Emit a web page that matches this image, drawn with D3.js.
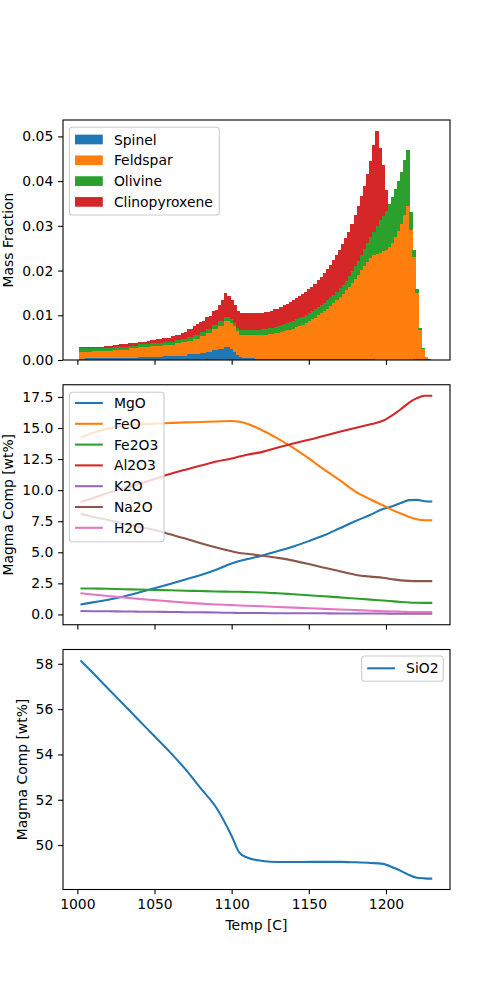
<!DOCTYPE html>
<html lang="en">
<head>
<meta charset="UTF-8">
<script src="https://d3js.org/d3.v7.min.js"></script>
<title>Crystallisation</title>
<style>
  body { margin: 0; background: #fff; }
  svg text { font-family: "DejaVu Sans", sans-serif; fill: #000; }
</style>
</head>
<body>
<svg id="mainsvg" width="500" height="1000"></svg>
<script>
// ---- data ----
// bar temperatures (C), 2 degree steps
const barTemps = [1002,1004,1006,1008,1010,1012,1014,1016,1018,1020,1022,1024,1026,1028,1030,1032,1034,1036,1038,1040,
  1042,1044,1046,1048,1050,1052,1054,1056,1058,1060,1062,1064,1066,1068,1070,1072,1074,1076,1078,1080,
  1082,1084,1086,1088,1090,1092,1094,1096,1098,1100,1102,1104,1106,1108,1110,1112,1114,1116,1118,1120,
  1122,1124,1126,1128,1130,1132,1134,1136,1138,1140,1142,1144,1146,1148,1150,1152,1154,1156,1158,1160,
  1162,1164,1166,1168,1170,1172,1174,1176,1178,1180,1182,1184,1186,1188,1190,1192,1194,1196,1198,1200,
  1202,1204,1206,1208,1210,1212,1214,1216,1218,1220,1222,1224,1226,1228]

const spinel = [.00025,.00025,.00045,.00045,.00045,.00045,.00045,.00045,.00045,.00045,.00045,.00045,.00045,.00045,.00045,.00045,.00045,.00045,.00045,.0007,
  .0007,.0007,.0007,.0007,.0007,.0007,.0007,.0009,.0009,.0009,.0009,.0009,.001,.001,.001,.0013,.0013,.0013,.0013,.0016,
  .0016,.0019,.0019,.0022,.0022,.0025,.0025,.0028,.0028,.0025,.0018,.0012,.0007,.0005,.0005,.0004,.0004,.0003,.0003,.0003,
  .0002,.0002,.0002,.0002,.0002,.0002,.0002,.0002,.0002,.0002,.0002,.0002,.0002,.0002,.0002,.0002,.0002,.0002,.0002,.0002,
  .0002,.0002,.0002,.0002,.0002,.0002,.0002,.0002,.0002,.0002,.0002,.0002,.0002,.0002,.0002,.0002,0,0,0,0,
  0,0,0,0,0,0,0,0,.0002,.0002,.0002,.0002,.0002,.0002]

const feldspar = [.00165,.00165,.00145,.00145,.00165,.00165,.00165,.00165,.00165,.00165,.00165,.00185,.00185,.00185,.00185,.00185,.00215,.00215,.00215,.0021,
  .0021,.0021,.0021,.0024,.0024,.0024,.0024,.0025,.0025,.0025,.0025,.0028,.0027,.003,.003,.003,.003,.0034,.0034,.0037,
  .0037,.0042,.0042,.0048,.0048,.0052,.0052,.0059,.0059,.0057,.0057,.0052,.005,.0051,.0051,.0051,.0051,.0052,.0053,.0053,
  .0055,.0056,.0057,.0058,.0059,.0061,.0062,.0064,.0066,.0068,.0071,.0074,.0077,.0081,.0085,.0089,.0093,.0098,.0103,.0108,
  .0113,.0119,.0125,.0132,.0139,.0146,.0154,.0162,.0171,.018,.0189,.0199,.0209,.0218,.0227,.0232,.0238,.024,.0243,.0247,
  .0253,.0262,.0274,.0288,.0305,.0325,.0344,.029,.0229,.0147,.0065,.0023,.0004,0]

const olivine = [.0007,.0007,.0007,.0007,.0006,.0006,.0006,.0006,.0006,.0006,.0006,.0006,.0006,.0006,.0006,.0006,.0006,.0006,.0006,.0007,
  .0007,.0007,.0007,.0007,.0007,.0007,.0007,.0007,.0007,.0007,.0007,.0007,.0007,.0007,.0007,.0008,.0008,.0009,.0009,.0009,
  .0009,.0009,.0009,.0009,.0009,.001,.001,.0009,.0009,.001,.0008,.0008,.0011,.0012,.0011,.0012,.0012,.0012,.0012,.0013,
  .0013,.0013,.0013,.0014,.0015,.0015,.0016,.0017,.0017,.0018,.0018,.0018,.0018,.0018,.0018,.0018,.0018,.0018,.0018,.0018,
  .0019,.0019,.0019,.0019,.0019,.002,.0021,.0023,.0025,.0028,.0031,.0034,.0037,.0041,.0045,.0053,.0062,.0072,.008,.0086,
  .0095,.0103,.0109,.0112,.0115,.0123,.0125,.004,.0014,.0009,.0005,.0001,0,0]

const clinopyroxene = [.0003,.0003,.0003,.0003,.0003,.0003,.0003,.0003,.0005,.0005,.0005,.0005,.0005,.0007,.0007,.0007,.0006,.0006,.0006,.0006,
  .0006,.0006,.0007,.0007,.0007,.0008,.0008,.0009,.0009,.0009,.0012,.0012,.0013,.0013,.0016,.0018,.0019,.002,.0024,.0024,
  .0026,.0026,.0028,.003,.0032,.0035,.0048,.0053,.0048,.0043,.0039,.0037,.0037,.0036,.0037,.0037,.0037,.0037,.0036,.0035,
  .0037,.0037,.0038,.0039,.0039,.004,.0042,.0043,.0045,.0047,.0048,.0049,.0051,.0052,.0053,.0055,.0058,.006,.0063,.0067,
  .007,.0073,.0077,.0082,.0086,.0091,.0095,.01,.0107,.0115,.0123,.0132,.0142,.0154,.0171,.0193,.0211,.0163,.0112,.0047,
  0,0,0,0,0,0,0,0,0,0,0,0,0,0]

// magma composition (wt%) against temperature
const lineTemps = [1002,1010,1020,1030,1040,1050,1060,1070,1080,1090,1100,1105,1110,1120,1130,1140,1150,1160,1170,1180,1190,1198,1205,1210,1215,1220,1225,1230]
const MgO   = [0.80,0.97,1.18,1.45,1.77,2.10,2.45,2.82,3.18,3.60,4.10,4.30,4.45,4.75,5.10,5.47,5.90,6.37,6.93,7.50,8.02,8.48,8.75,8.98,9.20,9.22,9.10,9.08]
const FeO   = [14.25,14.60,14.95,15.15,15.27,15.35,15.40,15.45,15.48,15.52,15.56,15.50,15.35,14.80,14.15,13.40,12.55,11.65,10.80,9.90,9.25,8.78,8.35,8.10,7.85,7.65,7.58,7.58]
const Fe2O3 = [2.09,2.08,2.06,2.03,2.00,1.97,1.94,1.91,1.88,1.85,1.83,1.82,1.80,1.77,1.70,1.62,1.54,1.46,1.37,1.28,1.19,1.12,1.05,1.00,0.96,0.94,0.93,0.93]
const Al2O3 = [9.05,9.35,9.78,10.15,10.50,10.90,11.30,11.65,11.98,12.30,12.55,12.70,12.85,13.08,13.43,13.75,14.05,14.38,14.70,15.00,15.30,15.58,16.10,16.55,17.05,17.40,17.60,17.60]
const K2O   = [0.27,0.26,0.25,0.24,0.22,0.21,0.20,0.18,0.17,0.15,0.13,0.12,0.12,0.11,0.10,0.10,0.09,0.09,0.08,0.08,0.07,0.07,0.06,0.06,0.05,0.05,0.05,0.05]
const Na2O  = [8.10,7.85,7.60,7.30,7.05,6.80,6.45,6.10,5.72,5.38,5.08,4.95,4.88,4.72,4.55,4.33,4.05,3.75,3.48,3.20,3.04,2.95,2.82,2.74,2.70,2.68,2.68,2.68]
const H2O   = [1.71,1.60,1.48,1.36,1.25,1.15,1.05,0.95,0.87,0.80,0.75,0.72,0.70,0.66,0.60,0.55,0.50,0.45,0.40,0.35,0.30,0.26,0.24,0.22,0.20,0.19,0.19,0.19]
const SiO2  = [58.15,57.60,56.90,56.20,55.50,54.80,54.10,53.35,52.50,51.66,50.40,49.67,49.45,49.30,49.25,49.25,49.26,49.26,49.26,49.24,49.21,49.17,49.00,48.85,48.68,48.56,48.53,48.52]

// tick labels
const tempTicks = [1000, 1050, 1100, 1150, 1200]
const massTicks = [0, 0.01, 0.02, 0.03, 0.04, 0.05]
const compTicks = [0, 2.5, 5, 7.5, 10, 12.5, 15, 17.5]
const silicaTicks = [50, 52, 54, 56, 58]

const minerals = ['Spinel', 'Feldspar', 'Olivine', 'Clinopyroxene']
const oxides = ['MgO', 'FeO', 'Fe2O3', 'Al2O3', 'K2O', 'Na2O', 'H2O']
const colors = ['#1f77b4', '#ff7f0e', '#2ca02c', '#d62728', '#9467bd', '#8c564b', '#e377c2']

// ---- layout ----
const svg = d3.select('#mainsvg')
const left = 63, right = 450, panelH = 240
const tops = [120, 384.75, 649.5]
const fs = 13.9, tick = 4.86

const x = d3.scaleLinear().domain([990.7, 1241.5]).range([left, right])

function panel(i, yScale, ticks, fmt, label, labelX, showX) {
  const g = svg.append('g')
  g.append('clipPath').attr('id', 'clip' + i)
    .append('rect').attr('x', left).attr('y', tops[i]).attr('width', right - left).attr('height', panelH)
  const yAx = g.append('g').attr('transform', `translate(${left},0)`)
    .call(d3.axisLeft(yScale).tickValues(ticks).tickFormat(d3.format(fmt)).tickSize(tick).tickPadding(tick))
  const xAx = g.append('g').attr('transform', `translate(0,${tops[i] + panelH})`)
    .call(d3.axisBottom(x).tickValues(tempTicks).tickSize(tick).tickPadding(tick)
      .tickFormat(showX ? d3.format('d') : () => ''))
  for (const a of [xAx, yAx]) {
    a.select('.domain').remove()
    a.selectAll('line').attr('stroke', '#000').attr('stroke-width', 1.1)
    a.selectAll('text').style('font-size', fs + 'px').attr('fill', '#000')
  }
  g.append('text').attr('transform', `translate(${labelX},${tops[i] + panelH / 2}) rotate(-90)`)
    .attr('text-anchor', 'middle').style('font-size', fs + 'px').text(label)
  return g
}

// top: stacked bars
const yMass = d3.scaleLinear().domain([0, 0.05366]).range([tops[0] + panelH, tops[0]])
const g0 = panel(0, yMass, massTicks, '.2f', 'Mass Fraction', 13, false)
const rows = barTemps.map((t, i) => ({ t, Spinel: spinel[i], Feldspar: feldspar[i], Olivine: olivine[i], Clinopyroxene: clinopyroxene[i] }))
const stack = d3.stack().keys(minerals)(rows)
const barLayer = g0.insert('g', ':first-child').attr('clip-path', 'url(#clip0)')
stack.forEach((layer, k) => {
  barLayer.append('g').attr('fill', colors[k]).selectAll('rect')
    .data(layer).join('rect')
    .attr('x', d => x(d.data.t - 1))
    .attr('width', d => x(d.data.t + 1) - x(d.data.t - 1) + 0.4)
    .attr('y', d => yMass(d[1]))
    .attr('height', d => Math.max(0, yMass(d[0]) - yMass(d[1])))
    .attr('shape-rendering', 'crispEdges')
})

// middle: oxide lines
const yComp = d3.scaleLinear().domain([-0.83, 18.48]).range([tops[1] + panelH, tops[1]])
const g1 = panel(1, yComp, compTicks, '.1f', 'Magma Comp [wt%]', 13, false)
const oxideData = [MgO, FeO, Fe2O3, Al2O3, K2O, Na2O, H2O]
const lineLayer = g1.append('g').attr('clip-path', 'url(#clip1)')
oxideData.forEach((vals, k) => {
  const line = d3.line().x((d, i) => x(lineTemps[i])).y(d => yComp(d)).curve(d3.curveMonotoneX)
  lineLayer.append('path').attr('d', line(vals)).attr('fill', 'none')
    .attr('stroke', colors[k]).attr('stroke-width', 2.08).attr('stroke-linejoin', 'round')
})

// bottom: silica
const ySil = d3.scaleLinear().domain([48.04, 58.63]).range([tops[2] + panelH, tops[2]])
const g2 = panel(2, ySil, silicaTicks, 'd', 'Magma Comp [wt%]', 27, true)
const silLine = d3.line().x((d, i) => x(lineTemps[i])).y(d => ySil(d)).curve(d3.curveMonotoneX)
g2.append('g').attr('clip-path', 'url(#clip2)').append('path').attr('d', silLine(SiO2))
  .attr('fill', 'none').attr('stroke', colors[0]).attr('stroke-width', 2.08).attr('stroke-linejoin', 'round')
g2.append('text').attr('x', (left + right) / 2).attr('y', 930).attr('text-anchor', 'middle')
  .style('font-size', fs + 'px').text('Temp [C]')

// frames
tops.forEach(t => {
  svg.append('rect').attr('x', left).attr('y', t).attr('width', right - left).attr('height', panelH)
    .attr('fill', 'none').attr('stroke', '#000').attr('stroke-width', 1.1)
})

// legends
function legend(box, items, firstRow, handle) {
  const g = svg.append('g')
  g.append('rect').attr('x', box[0]).attr('y', box[1]).attr('width', box[2] - box[0]).attr('height', box[3] - box[1])
    .attr('rx', 2.8).attr('fill', '#fff').attr('fill-opacity', 0.8).attr('stroke', '#cccccc').attr('stroke-width', 1.1)
  items.forEach((name, k) => {
    const cy = firstRow + k * 20.8
    const hx = box[0] + 5.5
    if (handle === 'patch') {
      g.append('rect').attr('x', hx).attr('y', cy - 4.85).attr('width', 27.8).attr('height', 9.7).attr('fill', colors[k])
    } else {
      g.append('line').attr('x1', hx).attr('x2', hx + 27.8).attr('y1', cy).attr('y2', cy)
        .attr('stroke', colors[k]).attr('stroke-width', 2.08)
    }
    g.append('text').attr('x', hx + 27.8 + 11.1).attr('y', cy).attr('dy', '0.36em')
      .style('font-size', fs + 'px').text(name)
  })
}
legend([69.5, 127.3, 219.3, 215], minerals, 139.5, 'patch')
legend([69.5, 392.3, 164, 541.7], oxides, 403, 'line')

// SiO2 legend (upper right)
const lg = svg.append('g')
lg.append('rect').attr('x', 361.7).attr('y', 656).attr('width', 81.6).attr('height', 25.2).attr('rx', 2.8)
  .attr('fill', '#fff').attr('fill-opacity', 0.8).attr('stroke', '#cccccc').attr('stroke-width', 1.1)
lg.append('line').attr('x1', 367.2).attr('x2', 395).attr('y1', 668.3).attr('y2', 668.3)
  .attr('stroke', colors[0]).attr('stroke-width', 2.08)
lg.append('text').attr('x', 406.1).attr('y', 668.3).attr('dy', '0.36em').style('font-size', fs + 'px').text('SiO2')
</script>
</body>
</html>
